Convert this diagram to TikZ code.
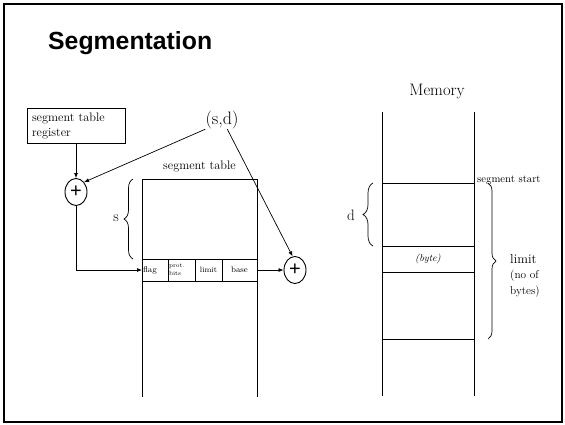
\documentclass[tikz,border=0pt]{standalone}
\usepackage{fontspec}
\newfontfamily\titlefont{Liberation Sans}
\usetikzlibrary{shapes.geometric,decorations.pathreplacing,arrows.meta}
\newcommand{\fs}[1]{\fontsize{#1}{#1}\selectfont}
\begin{document}
\begin{tikzpicture}[x=1pt,y=-1pt,
  ln/.style={line width=0.7pt},
  arr/.style={ln,-{Latex[length=5pt,width=4pt]}},
  box/.style={draw,ln,inner sep=0pt,outer sep=0pt,anchor=north west},
  cell/.style={box,minimum height=22pt},
  plus/.style={draw,line width=0.9pt,ellipse,minimum width=22pt,minimum height=27pt,inner sep=0pt,font=\titlefont\fs{20}},
  brc/.style={ln,decorate,decoration={brace,amplitude=#1}},
  lbl/.style={inner sep=0pt}
]
\useasboundingbox (0,0) rectangle (565,424);
\draw[line width=2pt] (4,4) rectangle (562,422);
\node[lbl,anchor=base west,font=\titlefont\bfseries\fs{24.8}] (title) at (48,49) {Segmentation};

% register
\node[box,minimum width=98pt,minimum height=35pt,inner xsep=5pt,text width=88pt,align=left,font=\fontsize{12.3}{15}\selectfont] (reg) at (27,108) {segment table\\register};
\node[plus] (p1) at (76,192) {+};
\node[lbl,font=\fs{18}] (sd) at (222,120) {(s,d)};

% segment table
\node[box,minimum width=115pt,minimum height=80pt] (stab) at (142,179) {};
\node[lbl,anchor=base,font=\fs{12.3}] (stlbl) at (199.5,169) {segment table};
\node[cell,minimum width=26pt,inner xsep=1pt,text width=24pt,align=left,font=\fs{8.4}] (flag) at (stab.south west) {flag};
\node[cell,minimum width=27pt,inner xsep=1pt,text width=25pt,align=left,font=\fontsize{6}{8}\selectfont] (prot) at (flag.north east) {prot.\\bits};
\node[cell,minimum width=27pt,font=\fs{7.8}] (lim) at (prot.north east) {limit};
\node[cell,minimum width=35pt,font=\fs{8.3}] (base) at (lim.north east) {base};
\draw[ln] (flag.south west) -- ++(0,116);
\draw[ln] (base.south east) -- ++(0,116);
\node[plus] (p2) at (295,270) {+};

\draw[brc=9pt] ([xshift=-9pt]stab.south west) -- ([xshift=-9pt]stab.north west);
\node[lbl,font=\fs{15}] (slbl) at (116,218) {s};

% connectors
\draw[arr] (reg.south) -- (p1.north);
\draw[arr] (sd.south west) -- (p1.north east);
\draw[arr] (sd.-60) -- (p2.100);
\draw[arr] (p1.south) |- (flag.west);
\draw[arr] (base.east) -- (p2.west);

% memory
\node[lbl,anchor=base,font=\fs{16.6}] (memlbl) at (437,95) {Memory};
\node[box,minimum width=92pt,minimum height=63pt] (mseg) at (382,183) {};
\node[box,minimum width=92pt,minimum height=26pt,font=\itshape\fs{10}] (mbyte) at (mseg.south west) {(byte)};
\node[box,minimum width=92pt,minimum height=67pt] (mrest) at (mbyte.south west) {};
\draw[ln] (mseg.north west) -- ++(0,-71);
\draw[ln] (mseg.north east) -- ++(0,-71);
\draw[ln] (mrest.south west) -- ++(0,57);
\draw[ln] (mrest.south east) -- ++(0,57);
\node[lbl,anchor=base west,font=\fs{10.7}] (sstart) at (477,182) {segment start};

\draw[brc=10pt] ([xshift=-9pt]mseg.south west) -- ([xshift=-9pt]mseg.north west);
\node[lbl,font=\fs{15}] (dlbl) at (351,215) {d};

\draw[brc=8pt] ([xshift=14pt]mseg.north east) -- ([xshift=14pt]mrest.south east);
\node[lbl,anchor=base west,font=\fs{13.1}] (limlbl) at (510,263) {limit};
\node[lbl,anchor=base west,align=left,font=\fontsize{11.3}{16}\selectfont] (nob) at (510,294) {(no of\\bytes)};
\end{tikzpicture}
\end{document}
